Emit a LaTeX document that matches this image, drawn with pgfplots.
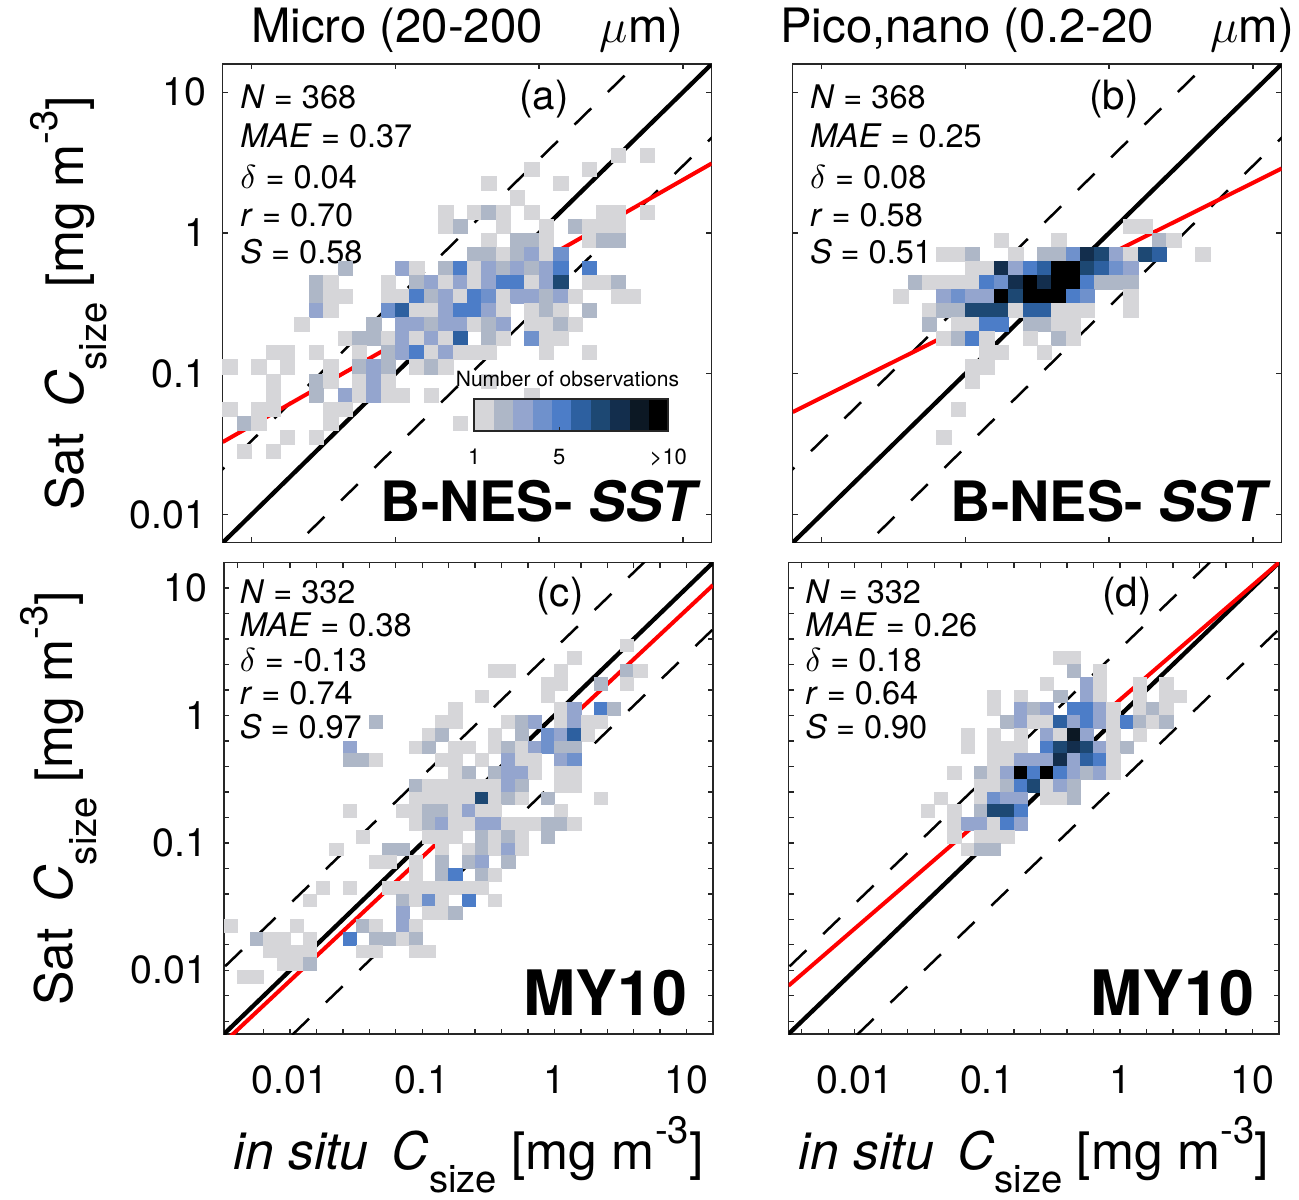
\documentclass[border=0pt]{standalone}
\usepackage{fontspec}
\setmainfont{TeX Gyre Heros}
\setsansfont{TeX Gyre Heros}
\usepackage{graphicx}
\usepackage{pgfplots}
\usepackage{pgfplotstable}
\pgfplotsset{compat=1.18}

\definecolor{cm1}{RGB}{214,214,217}
\definecolor{cm2}{RGB}{174,183,199}
\definecolor{cm3}{RGB}{148,165,206}
\definecolor{cm4}{RGB}{111,145,204}
\definecolor{cm5}{RGB}{76,125,200}
\definecolor{cm6}{RGB}{45,96,160}
\definecolor{cm7}{RGB}{29,72,115}
\definecolor{cm8}{RGB}{19,46,77}
\definecolor{cm9}{RGB}{12,24,36}
\definecolor{cm10}{RGB}{0,0,0}

\newcommand{\subs}[1]{\raisebox{-0.45em}{\scalebox{0.74}{#1}}}
\newcommand{\sups}[1]{\raisebox{0.5em}{\scalebox{0.74}{#1}}}
\newcommand{\ylab}{Sat\hspace{0.5em}\textit{C}\subs{size} [mg m\sups{-3}]}
\newcommand{\xlab}{\textit{in situ}\hspace{0.45em}\textit{C}\subs{size} [mg m\sups{-3}]}

\tikzset{
  stat/.style={anchor=base west, inner sep=0pt, font=\fontsize{9.75pt}{12pt}\selectfont},
  plet/.style={anchor=base, inner sep=0pt, font=\fontsize{12.1pt}{14pt}\selectfont},
  algo/.style={anchor=base east, inner sep=0pt},
}

\pgfplotsset{
  panel/.style={
    anchor=south west, scale only axis, width=146.7pt,
    axis line style={black!85, line width=0.4pt},
    every tick/.style={black!85, line width=0.4pt},
    tick align=inside, major tick length=1.6pt, minor tick length=1.6pt,
    xtick={-2,-1,0,1}, ytick={-2,-1,0,1},
    ticklabel style={font=\fontsize{11.8pt}{14pt}\selectfont},
    yticklabel style={anchor=east, inner sep=0pt, xshift=-4.8pt},
    xticklabel style={anchor=base, inner sep=0pt, yshift=-17.7pt},
    title style={at={(0.5,1)}, anchor=base, yshift=0.6pt, inner sep=0pt, font=\fontsize{14.2pt}{17pt}\selectfont},
    label style={font=\fontsize{15.5pt}{18pt}\selectfont, inner sep=0pt},
    xlabel style={at={(axis description cs:0.5,0)}, anchor=base, yshift=-40.6pt},
  },
  panel top/.style={height=143.61pt, xmin=-2.2, xmax=1.2, ymin=-2.2, ymax=1.2, xticklabels={}},
  panel bottom/.style={height=141.45pt, xmin=-2.5, xmax=1.2, ymin=-2.5, ymax=1.2,
    minor xtick={-2.4,-2.2,...,1.2}, minor ytick={-2.4,-2.2,...,1.2},
    xticklabels={0.01,0.1,1,10}},
  cellsbase/.style={scatter, only marks, mark=square*, scatter src=explicit symbolic,
    scatter/classes={1={cm1},2={cm2},3={cm3},4={cm4},5={cm5},6={cm6},7={cm7},8={cm8},9={cm9},10={cm10}}},
  cells top/.style={cellsbase, mark size=2.157pt, mark options={yscale=0.979, line width=0.15pt}},
  cells bottom/.style={cellsbase, mark size=1.983pt, mark options={yscale=0.964, line width=0.15pt}},
  dashl/.style={black, line width=0.75pt, dash pattern=on 7pt off 7pt},
  onel/.style={black, line width=1.3pt},
  regl/.style={red, line width=1.2pt},
}

\pgfplotstableread[row sep=\\]{
x y c\\
0.55 0.55 1\\ 0.75 0.55 1\\ -0.05 0.45 1\\ 0.35 0.45 1\\ -0.35 0.35 1\\ 0.15 0.35 1\\ -0.15 0.25 1\\
-0.65 0.15 1\\ -0.45 0.15 1\\ -0.35 0.15 2\\ -0.25 0.15 1\\ -0.05 0.15 1\\ 0.45 0.15 1\\ 0.55 0.15 1\\ 0.75 0.15 1\\
-0.65 0.05 1\\ -0.55 0.05 2\\ -0.25 0.05 1\\ 0.05 0.05 1\\ 0.25 0.05 2\\ 0.35 0.05 1\\ 0.45 0.05 1\\ 0.55 0.05 1\\
-0.35 -0.05 1\\ -0.15 -0.05 2\\ -0.05 -0.05 2\\ 0.05 -0.05 1\\ 0.35 -0.05 1\\ 0.45 -0.05 2\\ 0.55 -0.05 2\\
-0.45 -0.15 2\\ -0.35 -0.15 2\\ -0.25 -0.15 1\\ -0.15 -0.15 2\\ -0.05 -0.15 3\\ 0.05 -0.15 1\\ 0.15 -0.15 4\\
-1.35 -0.25 2\\ -0.95 -0.25 3\\ -0.85 -0.25 1\\ -0.65 -0.25 2\\ -0.55 -0.25 5\\ -0.45 -0.25 1\\ -0.35 -0.25 3\\ -0.25 -0.25 2\\ -0.15 -0.25 3\\ -0.05 -0.25 2\\ 0.05 -0.25 3\\ 0.15 -0.25 5\\ 0.35 -0.25 5\\
-1.55 -0.35 2\\ -1.45 -0.35 1\\ -1.05 -0.35 1\\ -0.85 -0.35 2\\ -0.75 -0.35 3\\ -0.65 -0.35 1\\ -0.55 -0.35 3\\ -0.45 -0.35 1\\ -0.35 -0.35 3\\ -0.25 -0.35 5\\ -0.15 -0.35 5\\ -0.05 -0.35 1\\ 0.05 -0.35 3\\ 0.15 -0.35 7\\ 0.35 -0.35 1\\ 0.45 -0.35 1\\ 0.55 -0.35 2\\
-1.55 -0.45 2\\ -1.45 -0.45 1\\ -1.35 -0.45 1\\ -1.05 -0.45 1\\ -0.95 -0.45 1\\ -0.85 -0.45 5\\ -0.75 -0.45 2\\ -0.65 -0.45 3\\ -0.55 -0.45 1\\ -0.45 -0.45 5\\ -0.35 -0.45 4\\ -0.25 -0.45 1\\ -0.15 -0.45 3\\ -0.05 -0.45 3\\ 0.05 -0.45 2\\ 0.15 -0.45 3\\ 0.25 -0.45 1\\ 0.55 -0.45 1\\ 0.65 -0.45 1\\
-1.55 -0.55 3\\ -1.45 -0.55 1\\ -1.05 -0.55 4\\ -0.95 -0.55 6\\ -0.85 -0.55 1\\ -0.75 -0.55 1\\ -0.65 -0.55 3\\ -0.55 -0.55 5\\ -0.45 -0.55 5\\ -0.35 -0.55 3\\ -0.25 -0.55 1\\ -0.05 -0.55 1\\ 0.05 -0.55 2\\ 0.15 -0.55 1\\ 0.35 -0.55 2\\
-1.65 -0.65 1\\ -1.15 -0.65 2\\ -0.95 -0.65 3\\ -0.85 -0.65 3\\ -0.75 -0.65 2\\ -0.65 -0.65 3\\ -0.55 -0.65 3\\ -0.45 -0.65 1\\ -0.35 -0.65 2\\ -0.25 -0.65 3\\ -0.05 -0.65 1\\ 0.05 -0.65 1\\ 0.15 -0.65 2\\ 0.25 -0.65 1\\
-1.35 -0.75 1\\ -1.25 -0.75 2\\ -1.15 -0.75 2\\ -1.05 -0.75 1\\ -0.95 -0.75 3\\ -0.85 -0.75 1\\ -0.75 -0.75 3\\ -0.65 -0.75 1\\ -0.55 -0.75 6\\ -0.35 -0.75 2\\ -0.25 -0.75 1\\ -0.05 -0.75 4\\ 0.05 -0.75 1\\ 0.15 -0.75 1\\
-1.85 -0.85 1\\ -1.75 -0.85 1\\ -1.55 -0.85 1\\ -1.25 -0.85 1\\ -1.05 -0.85 2\\ -0.95 -0.85 3\\ -0.85 -0.85 5\\ -0.75 -0.85 1\\ -0.65 -0.85 3\\ -0.55 -0.85 1\\ -0.45 -0.85 1\\ -0.35 -0.85 1\\ 0.05 -0.85 1\\ 0.35 -0.85 1\\
-2.15 -0.95 1\\ -1.95 -0.95 1\\ -1.75 -0.95 1\\ -1.45 -0.95 1\\ -1.25 -0.95 2\\ -1.15 -0.95 3\\ -1.05 -0.95 2\\ -0.85 -0.95 1\\ -0.75 -0.95 2\\ -0.65 -0.95 1\\
-1.85 -1.05 1\\ -1.55 -1.05 2\\ -1.45 -1.05 1\\ -1.25 -1.05 1\\ -1.15 -1.05 3\\ -1.05 -1.05 1\\ -0.35 -1.05 1\\
-1.85 -1.15 1\\ -1.55 -1.15 2\\ -1.35 -1.15 3\\ -1.25 -1.15 1\\ -1.15 -1.15 3\\ -1.05 -1.15 1\\ -0.95 -1.15 1\\ -0.75 -1.15 1\\ -0.05 -1.15 1\\
-2.15 -1.25 1\\ -1.95 -1.25 1\\ -1.85 -1.25 1\\ -1.45 -1.25 1\\ -1.35 -1.25 1\\
-2.05 -1.35 2\\ -1.95 -1.35 1\\ -1.45 -1.35 1\\ -0.55 -1.35 1\\
-1.75 -1.45 1\\ -1.55 -1.45 1\\ -2.05 -1.55 1\\ -1.85 -1.55 1\\
}\dataA

\pgfplotstableread[row sep=\\]{
x y c\\
0.15 0.05 1\\ 0.25 0.05 1\\
-0.75 -0.05 1\\ -0.35 -0.05 1\\ 0.35 -0.05 2\\ 0.45 -0.05 1\\
-1.15 -0.15 1\\ -1.05 -0.15 1\\ -0.95 -0.15 2\\ -0.65 -0.15 1\\ -0.45 -0.15 2\\ -0.35 -0.15 2\\ -0.25 -0.15 4\\ -0.15 -0.15 8\\ -0.05 -0.15 7\\ 0.05 -0.15 3\\ 0.15 -0.15 1\\ 0.25 -0.15 7\\ 0.35 -0.15 6\\ 0.65 -0.15 1\\
-0.95 -0.25 1\\ -0.85 -0.25 1\\ -0.75 -0.25 8\\ -0.65 -0.25 3\\ -0.55 -0.25 5\\ -0.45 -0.25 6\\ -0.35 -0.25 10\\ -0.25 -0.25 10\\ -0.15 -0.25 7\\ -0.05 -0.25 6\\ 0.05 -0.25 4\\ 0.15 -0.25 3\\
-1.35 -0.35 2\\ -1.25 -0.35 1\\ -1.15 -0.35 1\\ -1.05 -0.35 1\\ -0.95 -0.35 1\\ -0.85 -0.35 5\\ -0.75 -0.35 4\\ -0.65 -0.35 8\\ -0.55 -0.35 10\\ -0.45 -0.35 8\\ -0.35 -0.35 10\\ -0.25 -0.35 10\\ -0.15 -0.35 5\\ -0.05 -0.35 2\\ 0.05 -0.35 2\\ 0.15 -0.35 2\\
-1.45 -0.45 1\\ -1.15 -0.45 3\\ -1.05 -0.45 4\\ -0.95 -0.45 3\\ -0.85 -0.45 3\\ -0.75 -0.45 10\\ -0.65 -0.45 7\\ -0.55 -0.45 10\\ -0.45 -0.45 10\\ -0.35 -0.45 10\\ -0.25 -0.45 5\\ -0.15 -0.45 4\\ 0.15 -0.45 1\\
-1.25 -0.55 1\\ -1.15 -0.55 2\\ -1.05 -0.55 2\\ -0.95 -0.55 7\\ -0.85 -0.55 7\\ -0.75 -0.55 7\\ -0.65 -0.55 1\\ -0.55 -0.55 6\\ -0.45 -0.55 6\\ -0.35 -0.55 1\\ -0.25 -0.55 1\\ -0.15 -0.55 1\\ 0.15 -0.55 1\\
-1.25 -0.65 2\\ -1.05 -0.65 1\\ -0.95 -0.65 1\\ -0.85 -0.65 5\\ -0.75 -0.65 5\\ -0.55 -0.65 2\\ -0.45 -0.65 2\\ -0.35 -0.65 1\\ -0.25 -0.65 1\\
-1.15 -0.75 1\\ -1.05 -0.75 2\\ -0.95 -0.75 5\\ -0.85 -0.75 1\\ -0.55 -0.75 1\\ -0.35 -0.75 2\\ -0.25 -0.75 1\\
-0.85 -0.85 1\\ -0.75 -0.85 1\\ -0.45 -0.85 1\\
-0.95 -0.95 1\\ -0.85 -0.95 1\\ -0.95 -1.05 1\\ -1.05 -1.25 1\\ -1.15 -1.45 1\\
}\dataB

\pgfplotstableread[row sep=\\]{
x y c\\
0.55 0.55 1\\ 0.15 0.45 1\\
-0.45 0.35 1\\ -0.35 0.35 1\\ 0.05 0.35 1\\ 0.55 0.35 2\\ 0.65 0.35 1\\
-0.05 0.25 1\\ 0.05 0.25 1\\ 0.35 0.25 2\\ 0.55 0.25 1\\
-0.55 0.15 1\\ -0.05 0.15 1\\
-0.75 0.05 1\\ 0.05 0.05 1\\ 0.15 0.05 3\\ 0.35 0.05 5\\ 0.45 0.05 2\\
-1.35 -0.05 2\\ -0.85 -0.05 1\\ -0.75 -0.05 1\\ -0.35 -0.05 1\\ -0.25 -0.05 2\\ -0.15 -0.05 3\\ 0.05 -0.05 1\\ 0.15 -0.05 3\\ 0.25 -0.05 1\\ 0.35 -0.05 1\\
-0.95 -0.15 1\\ -0.85 -0.15 2\\ -0.45 -0.15 1\\ -0.25 -0.15 2\\ -0.05 -0.15 4\\ 0.05 -0.15 3\\ 0.15 -0.15 6\\ 0.25 -0.15 1\\
-1.55 -0.25 3\\ -1.05 -0.25 1\\ -0.95 -0.25 2\\ -0.75 -0.25 1\\ -0.65 -0.25 1\\ -0.45 -0.25 1\\ -0.35 -0.25 2\\ -0.25 -0.25 1\\ -0.15 -0.25 3\\ -0.05 -0.25 4\\ 0.05 -0.25 2\\ 0.15 -0.25 2\\
-1.55 -0.35 2\\ -1.45 -0.35 2\\ -1.35 -0.35 1\\ -0.85 -0.35 1\\ -0.75 -0.35 1\\ -0.55 -0.35 1\\ -0.35 -0.35 3\\ -0.25 -0.35 1\\ -0.15 -0.35 1\\ 0.05 -0.35 3\\ 0.15 -0.35 4\\
-0.75 -0.45 1\\ -0.65 -0.45 2\\ -0.45 -0.45 2\\ -0.35 -0.45 3\\ -0.25 -0.45 3\\ -0.15 -0.45 1\\ 0.05 -0.45 1\\ 0.15 -0.45 1\\
-1.05 -0.55 2\\ -0.95 -0.55 1\\ -0.85 -0.55 1\\ -0.75 -0.55 1\\ -0.65 -0.55 1\\ -0.55 -0.55 1\\ -0.45 -0.55 1\\ -0.35 -0.55 3\\ -0.25 -0.55 2\\ 0.05 -0.55 1\\ 0.15 -0.55 1\\
-1.05 -0.65 1\\ -0.95 -0.65 1\\ -0.85 -0.65 1\\ -0.75 -0.65 1\\ -0.65 -0.65 1\\ -0.55 -0.65 7\\ -0.45 -0.65 1\\ -0.35 -0.65 2\\ -0.25 -0.65 1\\ -0.05 -0.65 2\\ 0.35 -0.65 1\\
-1.55 -0.75 1\\ -1.15 -0.75 1\\ -1.05 -0.75 1\\ -0.95 -0.75 2\\ -0.85 -0.75 2\\ -0.75 -0.75 1\\ -0.65 -0.75 3\\ -0.55 -0.75 1\\ -0.45 -0.75 1\\ 0.05 -0.75 1\\
-1.05 -0.85 1\\ -0.95 -0.85 2\\ -0.85 -0.85 3\\ -0.75 -0.85 1\\ -0.65 -0.85 1\\ -0.55 -0.85 3\\ -0.45 -0.85 3\\ -0.35 -0.85 1\\ -0.25 -0.85 1\\ -0.15 -0.85 1\\ -0.05 -0.85 2\\ 0.05 -0.85 2\\ 0.15 -0.85 1\\
-1.45 -0.95 1\\ -0.95 -0.95 1\\ -0.85 -0.95 1\\ -0.75 -0.95 1\\ -0.55 -0.95 2\\ -0.45 -0.95 1\\ -0.35 -0.95 2\\ -0.25 -0.95 1\\ -0.05 -0.95 2\\
-1.65 -1.05 1\\ -1.25 -1.05 2\\ -1.15 -1.05 2\\ -0.85 -1.05 1\\ -0.65 -1.05 1\\ -0.55 -1.05 2\\ -0.45 -1.05 1\\ -0.35 -1.05 3\\ -0.25 -1.05 1\\
-1.35 -1.15 1\\ -1.25 -1.15 1\\ -1.05 -1.15 1\\ -0.85 -1.15 2\\ -0.65 -1.15 2\\ -0.55 -1.15 3\\ -0.35 -1.15 2\\
-1.05 -1.25 1\\ -0.85 -1.25 2\\ -0.75 -1.25 5\\ -0.55 -1.25 2\\ -0.45 -1.25 1\\
-1.75 -1.35 1\\ -1.55 -1.35 1\\ -1.25 -1.35 1\\ -1.15 -1.35 1\\ -1.05 -1.35 1\\ -0.95 -1.35 1\\ -0.85 -1.35 1\\ -0.75 -1.35 1\\ -0.65 -1.35 1\\ -0.55 -1.35 1\\
-1.85 -1.45 1\\ -1.15 -1.45 2\\ -1.05 -1.45 1\\ -0.95 -1.45 4\\ -0.85 -1.45 1\\ -0.65 -1.45 5\\ -0.45 -1.45 1\\
-1.15 -1.55 3\\ -0.95 -1.55 1\\ -0.85 -1.55 1\\ -0.75 -1.55 2\\
-2.45 -1.65 1\\ -1.95 -1.65 1\\ -1.45 -1.65 2\\ -1.35 -1.65 1\\ -1.15 -1.65 3\\ -1.05 -1.65 1\\
-2.25 -1.75 2\\ -2.15 -1.75 1\\ -2.05 -1.75 1\\ -1.85 -1.75 1\\ -1.55 -1.75 5\\ -1.35 -1.75 2\\ -1.25 -1.75 2\\ -1.15 -1.75 1\\ -1.05 -1.75 2\\
-2.15 -1.85 1\\ -2.05 -1.85 1\\ -1.95 -1.85 1\\ -1.85 -1.85 1\\ -1.45 -1.85 1\\ -1.35 -1.85 1\\ -1.05 -1.85 1\\ -0.95 -1.85 1\\
-2.05 -1.95 1\\ -1.95 -1.95 1\\ -1.85 -1.95 2\\
-2.35 -2.05 1\\ -2.25 -2.05 1\\
}\dataC

\pgfplotstableread[row sep=\\]{
x y c\\
-0.45 0.45 1\\ -0.35 0.45 1\\ -0.35 0.35 2\\ -0.15 0.35 1\\
-0.55 0.25 1\\ -0.25 0.25 3\\ -0.15 0.25 1\\ 0.15 0.25 1\\ 0.35 0.25 1\\
-0.95 0.15 1\\ -0.75 0.15 1\\ -0.45 0.15 2\\ -0.25 0.15 3\\ -0.15 0.15 1\\ 0.15 0.15 1\\ 0.35 0.15 1\\ 0.45 0.15 1\\
-0.95 0.05 1\\ -0.75 0.05 3\\ -0.65 0.05 2\\ -0.55 0.05 3\\ -0.35 0.05 5\\ -0.25 0.05 5\\ -0.15 0.05 3\\ -0.05 0.05 1\\ 0.15 0.05 1\\ 0.25 0.05 2\\ 0.35 0.05 1\\
-0.85 -0.05 2\\ -0.75 -0.05 3\\ -0.65 -0.05 1\\ -0.55 -0.05 1\\ -0.45 -0.05 6\\ -0.35 -0.05 3\\ -0.25 -0.05 5\\ -0.15 -0.05 3\\ -0.05 -0.05 1\\ 0.05 -0.05 5\\ 0.15 -0.05 2\\ 0.25 -0.05 1\\ 0.35 -0.05 2\\
-1.15 -0.15 1\\ -0.95 -0.15 1\\ -0.75 -0.15 1\\ -0.55 -0.15 3\\ -0.45 -0.15 1\\ -0.35 -0.15 9\\ -0.25 -0.15 3\\ -0.05 -0.15 1\\ 0.15 -0.15 1\\
-1.15 -0.25 1\\ -0.95 -0.25 1\\ -0.85 -0.25 1\\ -0.75 -0.25 1\\ -0.55 -0.25 5\\ -0.45 -0.25 7\\ -0.35 -0.25 8\\ -0.25 -0.25 7\\ -0.15 -0.25 3\\ -0.05 -0.25 1\\ 0.05 -0.25 2\\
-0.95 -0.35 1\\ -0.85 -0.35 1\\ -0.75 -0.35 3\\ -0.65 -0.35 3\\ -0.55 -0.35 3\\ -0.45 -0.35 8\\ -0.35 -0.35 3\\ -0.25 -0.35 6\\ -0.15 -0.35 5\\ -0.05 -0.35 1\\
-1.25 -0.45 1\\ -1.05 -0.45 2\\ -0.95 -0.45 1\\ -0.85 -0.45 3\\ -0.75 -0.45 10\\ -0.65 -0.45 5\\ -0.55 -0.45 10\\ -0.45 -0.45 5\\ -0.35 -0.45 3\\ -0.25 -0.45 2\\ -0.15 -0.45 3\\ -0.05 -0.45 1\\
-1.05 -0.55 1\\ -0.95 -0.55 1\\ -0.85 -0.55 2\\ -0.75 -0.55 5\\ -0.65 -0.55 7\\ -0.55 -0.55 1\\ -0.45 -0.55 3\\ -0.35 -0.55 2\\
-1.35 -0.65 1\\ -1.05 -0.65 1\\ -0.95 -0.65 4\\ -0.85 -0.65 3\\ -0.75 -0.65 3\\ -0.55 -0.65 1\\ -0.45 -0.65 1\\ -0.35 -0.65 2\\
-1.45 -0.75 1\\ -1.25 -0.75 1\\ -1.05 -0.75 2\\ -0.95 -0.75 7\\ -0.85 -0.75 7\\ -0.75 -0.75 5\\
-1.25 -0.85 1\\ -1.15 -0.85 3\\ -1.05 -0.85 3\\ -0.95 -0.85 1\\ -0.85 -0.85 5\\ -0.75 -0.85 3\\
-1.25 -0.95 1\\ -1.05 -0.95 1\\ -0.95 -0.95 1\\ -0.85 -0.95 1\\
-1.15 -1.05 1\\ -1.05 -1.05 2\\ -0.95 -1.05 2\\
}\dataD

\begin{document}
\begin{tikzpicture}
\useasboundingbox (0pt,0pt) rectangle (389.7pt,-359.7pt);

% ---------------- (a)
\begin{axis}[panel, panel top, at={(66.81pt,-162.81pt)},
  title={Micro (20-200\hspace{1.2em}$\mu$m)},
  ylabel={\ylab}, ylabel style={at={(axis description cs:-0.2856,0.5)}, anchor=base},
  yticklabels={0.01,0.1,1,10}]
\addplot[cells top] table[x=x,y=y,meta=c] {\dataA};
\addplot[dashl] coordinates {(-3,-2.477) (2,2.523)};
\addplot[dashl] coordinates {(-3,-3.523) (2,1.477)};
\addplot[onel] coordinates {(-3,-3) (2,2)};
\addplot[regl] coordinates {(-2.2,-1.485) (1.2,0.494)};
\node[stat] at (axis description cs:0.035,0.9075) {\textit{N} = 368};
\node[stat] at (axis description cs:0.035,0.825) {\textit{MAE} = 0.37};
\node[stat] at (axis description cs:0.035,0.740) {$\delta$ = 0.04};
\node[stat] at (axis description cs:0.035,0.660) {\textit{r} = 0.70};
\node[stat] at (axis description cs:0.035,0.584) {\textit{S} = 0.58};
\node[plet] at (axis description cs:0.657,0.904) {(a)};
\node[algo, font=\fontsize{16.7pt}{20pt}\selectfont\bfseries] at (axis description cs:0.98,0.044) {B-NES- \textit{SST}};
\end{axis}

% colour bar inside (a)
\begin{axis}[at={(142.29pt,-129.3pt)}, anchor=south west, scale only axis,
  width=58.2pt, height=9.51pt, xmin=0, xmax=10, ymin=0, ymax=1, clip=false,
  ytick=\empty, xtick={0,4.38,10}, xticklabels={1,5,>10}, xtick pos=bottom,
  tick align=inside, major tick length=1.2pt, axis on top,
  axis line style={black!85, line width=0.5pt}, every tick/.style={black!85, line width=0.4pt},
  xticklabel style={font=\fontsize{6.6pt}{8pt}\selectfont, anchor=base, inner sep=0pt, yshift=-9.9pt}]
\addplot[fill=cm1, draw=none] coordinates {(0,0)(1,0)(1,1)(0,1)} -- cycle;
\addplot[fill=cm2, draw=none] coordinates {(1,0)(2,0)(2,1)(1,1)} -- cycle;
\addplot[fill=cm3, draw=none] coordinates {(2,0)(3,0)(3,1)(2,1)} -- cycle;
\addplot[fill=cm4, draw=none] coordinates {(3,0)(4,0)(4,1)(3,1)} -- cycle;
\addplot[fill=cm5, draw=none] coordinates {(4,0)(5,0)(5,1)(4,1)} -- cycle;
\addplot[fill=cm6, draw=none] coordinates {(5,0)(6,0)(6,1)(5,1)} -- cycle;
\addplot[fill=cm7, draw=none] coordinates {(6,0)(7,0)(7,1)(6,1)} -- cycle;
\addplot[fill=cm8, draw=none] coordinates {(7,0)(8,0)(8,1)(7,1)} -- cycle;
\addplot[fill=cm9, draw=none] coordinates {(8,0)(9,0)(9,1)(8,1)} -- cycle;
\addplot[fill=cm10, draw=none] coordinates {(9,0)(10,0)(10,1)(9,1)} -- cycle;
\node[anchor=base, inner sep=0pt, yshift=3.8pt, font=\fontsize{6.3pt}{8pt}\selectfont] at (axis description cs:0.48,1) {Number of observations};
\end{axis}

% ---------------- (b)
\begin{axis}[panel, panel top, at={(237.81pt,-162.81pt)},
  title={Pico,nano (0.2-20\hspace{1.2em}$\mu$m)},
  yticklabels={}]
\addplot[cells top] table[x=x,y=y,meta=c] {\dataB};
\addplot[dashl] coordinates {(-3,-2.477) (2,2.523)};
\addplot[dashl] coordinates {(-3,-3.523) (2,1.477)};
\addplot[onel] coordinates {(-3,-3) (2,2)};
\addplot[regl] coordinates {(-2.2,-1.272) (1.2,0.458)};
\node[stat] at (axis description cs:0.034,0.9075) {\textit{N} = 368};
\node[stat] at (axis description cs:0.034,0.825) {\textit{MAE} = 0.25};
\node[stat] at (axis description cs:0.034,0.740) {$\delta$ = 0.08};
\node[stat] at (axis description cs:0.034,0.660) {\textit{r} = 0.58};
\node[stat] at (axis description cs:0.034,0.584) {\textit{S} = 0.51};
\node[plet] at (axis description cs:0.657,0.904) {(b)};
\node[algo, font=\fontsize{16.7pt}{20pt}\selectfont\bfseries] at (axis description cs:0.98,0.044) {B-NES- \textit{SST}};
\end{axis}

% ---------------- (c)
\begin{axis}[panel, panel bottom, at={(67.2pt,-310.2pt)},
  ylabel={\ylab}, ylabel style={at={(axis description cs:-0.3088,0.5)}, anchor=base},
  xlabel={\xlab},
  yticklabels={0.01,0.1,1,10}]
\addplot[cells bottom] table[x=x,y=y,meta=c] {\dataC};
\addplot[dashl] coordinates {(-3,-2.477) (2,2.523)};
\addplot[dashl] coordinates {(-3,-3.523) (2,1.477)};
\addplot[onel] coordinates {(-3,-3) (2,2)};
\addplot[regl] coordinates {(-2.5,-2.566) (1.2,1.023)};
\node[stat] at (axis description cs:0.031,0.9135) {\textit{N} = 332};
\node[stat] at (axis description cs:0.031,0.8426) {\textit{MAE} = 0.38};
\node[stat] at (axis description cs:0.031,0.7699) {$\delta$ = -0.13};
\node[stat] at (axis description cs:0.031,0.6993) {\textit{r} = 0.74};
\node[stat] at (axis description cs:0.031,0.6272) {\textit{S} = 0.97};
\node[plet] at (axis description cs:0.687,0.9067) {(c)};
\node[algo, font=\fontsize{18.8pt}{22pt}\selectfont\bfseries] at (axis description cs:0.949,0.040) {MY10};
\end{axis}

% ---------------- (d)
\begin{axis}[panel, panel bottom, at={(236.55pt,-310.2pt)}, width=147.15pt,
  xlabel={\xlab},
  yticklabels={}]
\addplot[cells bottom] table[x=x,y=y,meta=c] {\dataD};
\addplot[dashl] coordinates {(-3,-2.477) (2,2.523)};
\addplot[dashl] coordinates {(-3,-3.523) (2,1.477)};
\addplot[onel] coordinates {(-3,-3) (2,2)};
\addplot[regl] coordinates {(-2.5,-2.121) (1.2,1.2)};
\node[stat] at (axis description cs:0.033,0.9135) {\textit{N} = 332};
\node[stat] at (axis description cs:0.033,0.8426) {\textit{MAE} = 0.26};
\node[stat] at (axis description cs:0.033,0.7699) {$\delta$ = 0.18};
\node[stat] at (axis description cs:0.033,0.6993) {\textit{r} = 0.64};
\node[stat] at (axis description cs:0.033,0.6272) {\textit{S} = 0.90};
\node[plet] at (axis description cs:0.69,0.9067) {(d)};
\node[algo, font=\fontsize{18.8pt}{22pt}\selectfont\bfseries] at (axis description cs:0.951,0.040) {MY10};
\end{axis}
\end{tikzpicture}
\end{document}
